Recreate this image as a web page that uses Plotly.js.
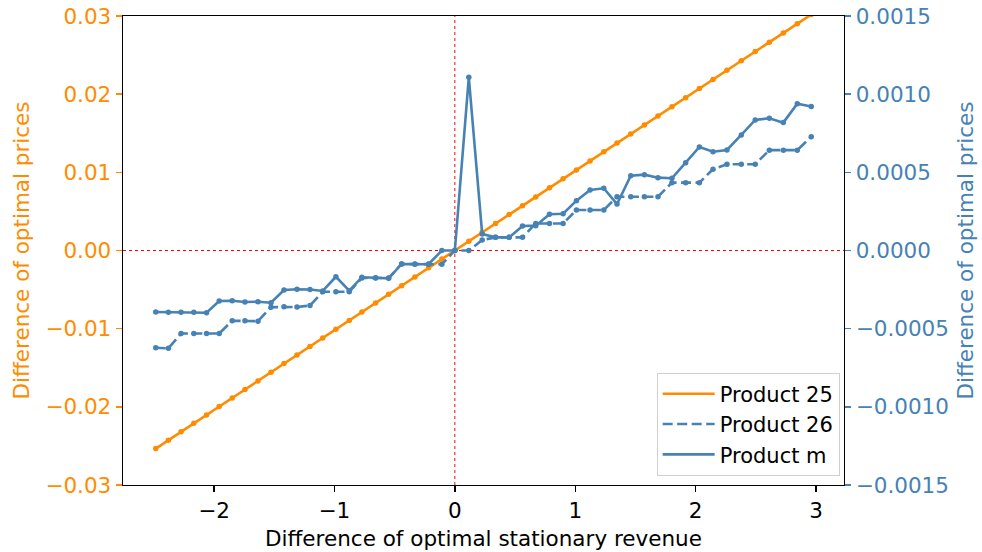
<!DOCTYPE html>
<html>
<head>
<meta charset="utf-8">
<script src="https://cdn.plot.ly/plotly-3.0.1.min.js"></script>
<style>
  html, body { margin: 0; padding: 0; background: #ffffff; }
  #chart { width: 982px; height: 552px; }
</style>
</head>
<body>
<div id="chart"></div>
<script>
// Difference of optimal stationary revenue (x) for each scenario
const revenueDiff = [
  -2.484, -2.379, -2.274, -2.168, -2.062, -1.957, -1.849, -1.743, -1.635, -1.527,
  -1.419, -1.311, -1.203, -1.097, -0.988, -0.877, -0.772, -0.658, -0.550, -0.442,
  -0.332, -0.218, -0.108, 0.000,
  0.116, 0.227, 0.338, 0.451, 0.562, 0.672, 0.786, 0.899, 1.010, 1.123,
  1.237, 1.347, 1.461, 1.574, 1.687, 1.803, 1.917, 2.031, 2.144, 2.260,
  2.379, 2.495, 2.612, 2.728, 2.844, 2.960
];

// Product 25 price difference (left axis)
const product25 = [
  -0.02534, -0.02427, -0.02319, -0.02211, -0.02103, -0.01996, -0.01886, -0.01778, -0.01668, -0.01558,
  -0.01447, -0.01337, -0.01227, -0.01119, -0.01008, -0.00895, -0.00787, -0.00671, -0.00561, -0.00451,
  -0.00339, -0.00222, -0.00110, 0.00000,
  0.00118, 0.00232, 0.00345, 0.00460, 0.00573, 0.00685, 0.00802, 0.00917, 0.01030, 0.01145,
  0.01262, 0.01374, 0.01490, 0.01605, 0.01721, 0.01839, 0.01955, 0.02072, 0.02187, 0.02305,
  0.02427, 0.02545, 0.02664, 0.02783, 0.02901, 0.03019
];

// Product 26 price difference (right axis)
const product26 = [
  -0.000622, -0.000626, -0.000531, -0.000531, -0.000531, -0.000531, -0.000449, -0.000449, -0.000452, -0.000363,
  -0.000360, -0.000361, -0.000352, -0.000264, -0.000264, -0.000264, -0.000176, -0.000176, -0.000176, -0.000086,
  -0.000086, -0.000086, -0.000088, 0.000000,
  0.000000, 0.000067, 0.000084, 0.000084, 0.000084, 0.000173, 0.000173, 0.000173, 0.000259, 0.000259,
  0.000259, 0.000344, 0.000344, 0.000344, 0.000344, 0.000434, 0.000434, 0.000434, 0.000520, 0.000552,
  0.000552, 0.000552, 0.000642, 0.000642, 0.000642, 0.000728
];

// Product m price difference (right axis)
const productM = [
  -0.000393, -0.000395, -0.000395, -0.000395, -0.000398, -0.000323, -0.000321, -0.000329, -0.000328, -0.000334,
  -0.000253, -0.000248, -0.000249, -0.000259, -0.000168, -0.000257, -0.000171, -0.000174, -0.000178, -0.000086,
  -0.000088, -0.000088, 0.000000, 0.000000,
  0.001108, 0.000106, 0.000084, 0.000084, 0.000157, 0.000159, 0.000232, 0.000235, 0.000319, 0.000387,
  0.000398, 0.000297, 0.000478, 0.000485, 0.000466, 0.000462, 0.000562, 0.000662, 0.000632, 0.000643,
  0.000739, 0.000835, 0.000846, 0.000818, 0.000939, 0.000921
];

const xTicks = [-2, -1, 0, 1, 2, 3];
const leftTicks = [-0.03, -0.02, -0.01, 0.00, 0.01, 0.02, 0.03];
const rightTicks = [-0.0015, -0.0010, -0.0005, 0.0000, 0.0005, 0.0010, 0.0015];

const ORANGE = '#ff8c00';
const BLUE = '#4682b4';
const FONT = 'DejaVu Sans, Verdana, sans-serif';
const FS = 21.5;
const LW = 2.6;
const MS = 5.5;

function lineTrace(y, name, color, dash, axis) {
  return {
    x: revenueDiff, y: y, name: name, yaxis: axis,
    type: 'scatter', mode: 'lines',
    line: { color: color, width: LW, dash: dash },
    hoverinfo: 'skip'
  };
}
function dotTrace(y, color, axis) {
  return {
    x: revenueDiff, y: y, yaxis: axis, showlegend: false,
    type: 'scatter', mode: 'markers',
    marker: { color: color, size: MS },
    hoverinfo: 'skip'
  };
}

const traces = [
  lineTrace(product25, 'Product 25', ORANGE, 'solid', 'y'),
  dotTrace(product25, ORANGE, 'y'),
  lineTrace(product26, 'Product 26', BLUE, '10px,4.5px', 'y2'),
  dotTrace(product26, BLUE, 'y2'),
  lineTrace(productM, 'Product m', BLUE, 'solid', 'y2'),
  dotTrace(productM, BLUE, 'y2')
];

const layout = {
  width: 982, height: 552,
  margin: { l: 123, r: 138, t: 16, b: 67 },
  paper_bgcolor: '#ffffff', plot_bgcolor: '#ffffff',
  font: { family: FONT, size: FS, color: '#000000' },
  showlegend: true,
  legend: {
    x: 0.994, y: 0.02, xanchor: 'right', yanchor: 'bottom',
    bgcolor: 'rgba(255,255,255,0.85)', bordercolor: '#d0d0d0', borderwidth: 1,
    font: { family: FONT, size: 21, color: '#000000' },
    itemwidth: 52,
    traceorder: 'normal'
  },
  xaxis: {
    range: [-2.756, 3.232],
    tickvals: xTicks, tickformat: 'd',
    ticks: 'outside', ticklen: 6, tickwidth: 1.4, tickcolor: '#000000',
    showline: true, linecolor: '#000000', linewidth: 1.4, mirror: true,
    showgrid: false, zeroline: false,
    tickfont: { family: FONT, size: FS, color: '#000000' },
    title: { text: 'Difference of optimal stationary revenue', font: { family: FONT, size: FS, color: '#000000' }, standoff: 8 }
  },
  yaxis: {
    range: [-0.03, 0.03],
    tickvals: leftTicks, tickformat: '.2f',
    ticks: 'outside', ticklen: 6, tickwidth: 1.4, tickcolor: ORANGE,
    showline: true, linecolor: '#000000', linewidth: 1.4,
    showgrid: false, zeroline: false,
    tickfont: { family: FONT, size: FS, color: ORANGE },
    title: { text: 'Difference of optimal prices', font: { family: FONT, size: FS, color: ORANGE }, standoff: 10 }
  },
  yaxis2: {
    range: [-0.0015, 0.0015], overlaying: 'y', side: 'right',
    tickvals: rightTicks, tickformat: '.4f',
    ticks: 'outside', ticklen: 6, tickwidth: 1.4, tickcolor: BLUE,
    showline: true, linecolor: '#000000', linewidth: 1.4,
    showgrid: false, zeroline: false,
    tickfont: { family: FONT, size: FS, color: BLUE },
    title: { text: 'Difference of optimal prices', font: { family: FONT, size: FS, color: BLUE }, standoff: 10 }
  },
  shapes: [
    { type: 'line', xref: 'x', yref: 'paper', x0: 0, x1: 0, y0: 0, y1: 1, layer: 'below',
      line: { color: '#ff0000', width: 1, dash: 'dot' } },
    { type: 'line', xref: 'paper', yref: 'y', x0: 0, x1: 1, y0: 0, y1: 0, layer: 'below',
      line: { color: '#ff0000', width: 1, dash: 'dot' } }
  ]
};

Plotly.newPlot('chart', traces, layout, { staticPlot: true, displayModeBar: false });
</script>
</body>
</html>
